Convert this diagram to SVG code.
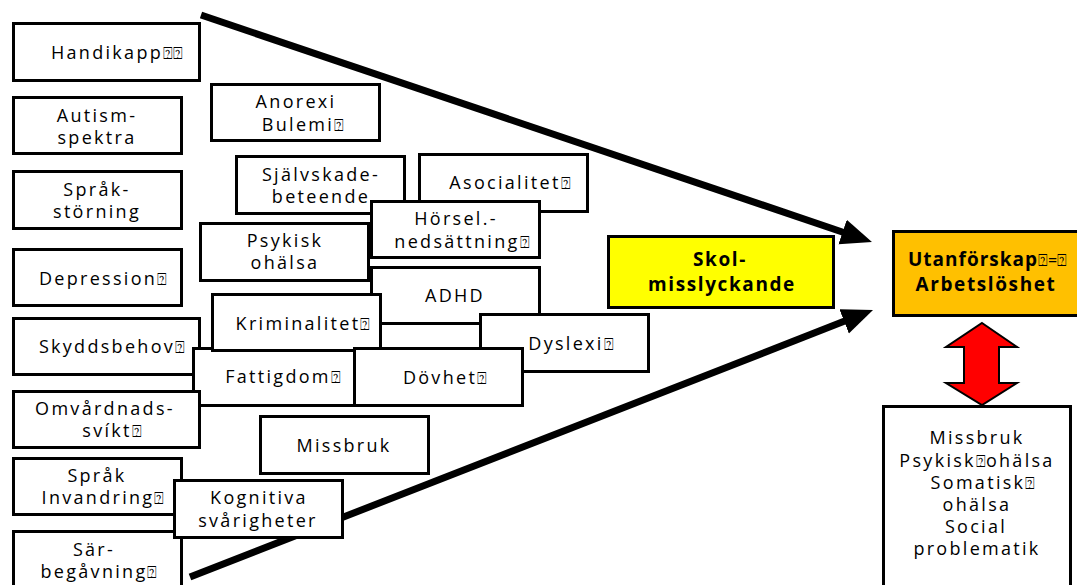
<svg xmlns="http://www.w3.org/2000/svg" width="1077" height="585" viewBox="0 0 1077 585">
<style>
.box{fill:#fff;stroke:#000;stroke-width:3}
.t{font-family:"Open Sans","Liberation Sans",sans-serif;font-size:18px;letter-spacing:2.3px;text-anchor:middle;fill:#000}
.b{font-family:"Open Sans","Liberation Sans",sans-serif;font-size:19px;font-weight:bold;letter-spacing:1.6px;text-anchor:middle;fill:#000}
.q{font-size:16px;letter-spacing:0;font-weight:normal}
.conn{stroke:#000;stroke-width:7;fill:none}
</style>
<defs>
<marker id="ah" markerUnits="userSpaceOnUse" markerWidth="34" markerHeight="28" refX="2" refY="13" orient="auto">
<path d="M0,0 L31,13 L0,26 z" fill="#000"/>
</marker>
</defs>
<rect width="1077" height="585" fill="#fff"/>
<g id="connectors">
<line class="conn" x1="201" y1="15" x2="844.5" y2="232.7" marker-end="url(#ah)"/>
<line class="conn" x1="190" y1="577" x2="846" y2="320.6" marker-end="url(#ah)"/>
</g>
<g id="handikapp"><rect class="box" x="13.5" y="23.5" width="186" height="57"/><text class="t" x="117" y="59">Handikapp<tspan class="q">⍰⍰</tspan></text></g>
<g id="autism"><rect class="box" x="13.5" y="97.5" width="168" height="56"/><text class="t" x="97" y="122">Autism-</text><text class="t" x="97" y="144">spektra</text></g>
<g id="sprakstorning"><rect class="box" x="13.5" y="171.5" width="168" height="57"/><text class="t" x="97" y="196">Språk-</text><text class="t" x="97" y="218">störning</text></g>
<g id="depression"><rect class="box" x="13.5" y="249.5" width="168" height="56"/><text class="t" x="103" y="285">Depression<tspan class="q">⍰</tspan></text></g>
<g id="skyddsbehov"><rect class="box" x="13.5" y="318.5" width="186" height="56"/><text class="t" x="112" y="353">Skyddsbehov<tspan class="q">⍰</tspan></text></g>
<g id="fattigdom"><rect class="box" x="193.5" y="348.5" width="168" height="57"/><text class="t" x="283" y="383">Fattigdom<tspan class="q">⍰</tspan></text></g>
<g id="omvardnad"><rect class="box" x="13.5" y="391.5" width="186" height="56"/><text class="t" x="105" y="415">Omvårdnads-</text><text class="t" x="112" y="437">svíkt<tspan class="q">⍰</tspan></text></g>
<g id="sprakinvandring"><rect class="box" x="13.5" y="458.5" width="168" height="56"/><text class="t" x="97" y="482">Språk</text><text class="t" x="103" y="504">Invandring<tspan class="q">⍰</tspan></text></g>
<g id="sarbegavning"><rect class="box" x="13.5" y="531.5" width="168" height="60"/><text class="t" x="94" y="556">Sär-</text><text class="t" x="99" y="578">begåvning<tspan class="q">⍰</tspan></text></g>
<g id="kognitiva"><rect class="box" x="174.5" y="480.5" width="168" height="57"/><text class="t" x="259" y="504">Kognitiva</text><text class="t" x="258" y="527">svårigheter</text></g>
<g id="anorexi"><rect class="box" x="211.5" y="84.5" width="168" height="56"/><text class="t" x="296" y="108">Anorexi</text><text class="t" x="303" y="131">Bulemi<tspan class="q">⍰</tspan></text></g>
<g id="sjalvskade"><rect class="box" x="236.5" y="156.5" width="168" height="57"/><text class="t" x="321" y="181">Självskade-</text><text class="t" x="321" y="203">beteende</text></g>
<g id="asocialitet"><rect class="box" x="419.5" y="154.5" width="168" height="57"/><text class="t" x="510" y="189">Asocialitet<tspan class="q">⍰</tspan></text></g>
<g id="psykisk"><rect class="box" x="200.5" y="223.5" width="168" height="57"/><text class="t" x="285" y="247">Psykisk</text><text class="t" x="285" y="269">ohälsa</text></g>
<g id="horsel"><rect class="box" x="371.5" y="201.5" width="168" height="56"/><text class="t" x="456" y="225">Hörsel.-</text><text class="t" x="462" y="248">nedsättning<tspan class="q">⍰</tspan></text></g>
<g id="adhd"><rect class="box" x="371.5" y="267.5" width="168" height="56"/><text class="t" x="455" y="302">ADHD</text></g>
<g id="kriminalitet"><rect class="box" x="212.5" y="294.5" width="168" height="56"/><text class="t" x="303" y="330">Kriminalitet<tspan class="q">⍰</tspan></text></g>
<g id="dyslexi"><rect class="box" x="480.5" y="314.5" width="168" height="57"/><text class="t" x="571" y="350">Dyslexi<tspan class="q">⍰</tspan></text></g>
<g id="dovhet"><rect class="box" x="354.5" y="348.5" width="168" height="57"/><text class="t" x="445" y="384">Dövhet<tspan class="q">⍰</tspan></text></g>
<g id="missbruk"><rect class="box" x="260.5" y="416.5" width="168" height="57"/><text class="t" x="344" y="452">Missbruk</text></g>
<g id="skolmisslyckande"><rect x="608.5" y="236.5" width="225" height="71" fill="#ffff00" stroke="#000" stroke-width="3"/><text class="b" x="720" y="266">Skol-</text><text class="b" x="722" y="291">misslyckande</text></g>
<g id="utanforskap"><rect x="893.5" y="231.5" width="190" height="84" fill="#ffc000" stroke="#000" stroke-width="3"/><text class="b" x="908" y="266" style="text-anchor:start;letter-spacing:1px">Utanförskap<tspan class="q">⍰=⍰</tspan></text><text class="b" x="986" y="291">Arbetslöshet</text></g>
<g id="dubbelpil"><polygon points="982,323 1017,347 999,347 999,383 1017,383 982,405 946,383 964,383 964,347 946,347" fill="#ff0000" stroke="#000" stroke-width="2"/></g>
<g id="foljder"><rect class="box" x="883.5" y="406.5" width="187" height="200"/>
<text class="t" x="977" y="444">Missbruk</text>
<text class="t" x="977" y="467">Psykisk<tspan class="q">⍰</tspan>ohälsa</text>
<text class="t" x="983" y="489">Somatisk<tspan class="q">⍰</tspan></text>
<text class="t" x="977" y="511">ohälsa</text>
<text class="t" x="976" y="533">Social</text>
<text class="t" x="977" y="555">problematik</text>
</g>
</svg>
